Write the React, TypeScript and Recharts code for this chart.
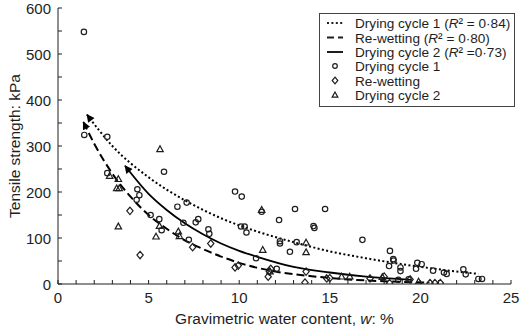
import React from 'react';
import { ComposedChart, XAxis, YAxis, Line, Scatter, Legend, Label } from 'recharts';

const FONT = '"Liberation Sans", Arial, Helvetica, sans-serif';
const INK = '#1e1e1e';

// ---- tick values ----
const xTicks = [0, 1, 2, 3, 4, 5, 6, 7, 8, 9, 10, 11, 12, 13, 14, 15, 16, 17, 18, 19, 20, 21, 22, 23, 24, 25];
const xLabelTicks = [0, 5, 10, 15, 20, 25];
const yTicks = [0, 50, 100, 150, 200, 250, 300, 350, 400, 450, 500, 550, 600];
const yLabelTicks = [0, 100, 200, 300, 400, 500, 600];

// ---- measured points (w %, tensile strength kPa) ----
const dryingCycle1Points = [
  { w: 1.43, t: 548 }, { w: 1.45, t: 324 }, { w: 2.72, t: 320 }, { w: 2.72, t: 241 },
  { w: 5.85, t: 244 }, { w: 4.38, t: 206 }, { w: 4.49, t: 193 }, { w: 4.34, t: 183 },
  { w: 5.11, t: 150 }, { w: 5.59, t: 141 }, { w: 5.72, t: 117 }, { w: 6.59, t: 168 },
  { w: 7.1, t: 177 }, { w: 7.22, t: 96 }, { w: 6.92, t: 133 }, { w: 7.74, t: 141 },
  { w: 7.6, t: 134 }, { w: 8.3, t: 119 }, { w: 8.35, t: 109 }, { w: 9.77, t: 201 },
  { w: 10.14, t: 190 }, { w: 10.1, t: 125 }, { w: 10.3, t: 125 }, { w: 10.4, t: 112 },
  { w: 11.24, t: 157 }, { w: 12.2, t: 139 }, { w: 13.08, t: 163 }, { w: 14.74, t: 163 },
  { w: 12.25, t: 93 }, { w: 12.25, t: 88 }, { w: 13.17, t: 91 }, { w: 14.1, t: 126 },
  { w: 14.15, t: 122 }, { w: 12.8, t: 70 }, { w: 10.93, t: 56 }, { w: 12.07, t: 33 },
  { w: 16.8, t: 96 }, { w: 18.32, t: 72 }, { w: 18.5, t: 54 }, { w: 18.52, t: 51 },
  { w: 18.27, t: 39 }, { w: 18.9, t: 36 }, { w: 18.9, t: 28 }, { w: 19.83, t: 46 },
  { w: 20.07, t: 43 }, { w: 19.76, t: 33 }, { w: 20.7, t: 29 }, { w: 21.3, t: 25 },
  { w: 21.45, t: 22 }, { w: 22.37, t: 32 }, { w: 22.5, t: 21 }, { w: 23.2, t: 11 },
  { w: 23.4, t: 11 }, { w: 19.35, t: 10 }, { w: 18.78, t: 9 },
];

const reWettingPoints = [
  { w: 3.97, t: 159 }, { w: 4.53, t: 63 }, { w: 7.43, t: 80 }, { w: 8.43, t: 88 },
  { w: 9.77, t: 36 }, { w: 9.95, t: 40 }, { w: 11.66, t: 27 }, { w: 11.74, t: 33 },
  { w: 11.6, t: 16 }, { w: 13.69, t: 27 }, { w: 13.63, t: 3 }, { w: 14.83, t: 12 },
  { w: 15.0, t: 13 }, { w: 17.22, t: 12 }, { w: 18.0, t: 16 }, { w: 18.3, t: 2 },
  { w: 19.43, t: 10 }, { w: 20.53, t: 2 }, { w: 20.8, t: 2 }, { w: 21.1, t: 2 },
];

const dryingCycle2Points = [
  { w: 5.63, t: 293 }, { w: 3.33, t: 228 }, { w: 3.24, t: 208 }, { w: 3.38, t: 208 },
  { w: 2.85, t: 235 }, { w: 3.33, t: 125 }, { w: 5.41, t: 103 }, { w: 5.6, t: 126 },
  { w: 6.64, t: 114 }, { w: 6.7, t: 104 }, { w: 11.24, t: 161 }, { w: 11.3, t: 74 },
  { w: 13.69, t: 90 }, { w: 13.69, t: 69 }, { w: 11.7, t: 27 }, { w: 15.65, t: 16 },
  { w: 16.1, t: 16 }, { w: 17.9, t: 15 }, { w: 19.9, t: 5 },
];

// ---- fitted curves ----
const dryingCycle1Fit = [
  { w: 1.6, t: 368 }, { w: 3, t: 300 }, { w: 5, t: 232 }, { w: 7, t: 182 }, { w: 9, t: 143 },
  { w: 11, t: 114 }, { w: 13, t: 91 }, { w: 15, t: 71 }, { w: 17, t: 56 }, { w: 19, t: 43 },
  { w: 21, t: 32 }, { w: 23.2, t: 22 },
];
const reWettingFit = [
  { w: 1.4, t: 352 }, { w: 2, t: 305 }, { w: 3, t: 240 }, { w: 4, t: 190 }, { w: 5, t: 150 },
  { w: 6, t: 120 }, { w: 7, t: 95 }, { w: 8, t: 76 }, { w: 10, t: 46 }, { w: 12, t: 27 },
  { w: 14, t: 17 }, { w: 16, t: 10 }, { w: 18, t: 6 }, { w: 20.5, t: 3 },
];
const dryingCycle2Fit = [
  { w: 3.7, t: 257 }, { w: 5, t: 196 }, { w: 6, t: 161 }, { w: 7, t: 132 }, { w: 8, t: 108 },
  { w: 9, t: 88 }, { w: 10, t: 72 }, { w: 11, t: 59 }, { w: 13, t: 37 }, { w: 15, t: 25 },
  { w: 17, t: 16 }, { w: 19.5, t: 9 },
];

const legendLines = [
  { name: 'Drying cycle 1', r2: '² = 0·84)', dash: '2 2.4' },
  { name: 'Re-wetting', r2: '² = 0·80)', dash: '7 4' },
  { name: 'Drying cycle 2', r2: '² =0·73)', dash: '' },
];
const legendMarkers = ['Drying cycle 1', 'Re-wetting', 'Drying cycle 2'];

// ---- shapes ----
const circlePath = (cx: number, cy: number, r: number) => (
  <circle cx={cx} cy={cy} r={r} fill="none" stroke={INK} strokeWidth={1.2} />
);
const diamondPath = (cx: number, cy: number, s: number) => (
  <path d={`M${cx},${cy - s}L${cx + s * 0.85},${cy}L${cx},${cy + s}L${cx - s * 0.85},${cy}Z`} fill="none" stroke={INK} strokeWidth={1.2} />
);
const trianglePath = (cx: number, cy: number, s: number) => (
  <path d={`M${cx},${cy - s}L${cx + s * 0.95},${cy + s * 0.7}L${cx - s * 0.95},${cy + s * 0.7}Z`} fill="none" stroke={INK} strokeWidth={1.2} />
);

const CircleShape = (p: any) => circlePath(p.cx, p.cy, 2.7);
const DiamondShape = (p: any) => diamondPath(p.cx, p.cy, 3.7);
const TriangleShape = (p: any) => trianglePath(p.cx, p.cy, 3.4);

const XTick = (props: any) => {
  const { x, y, payload } = props;
  const v = payload.value;
  return (
    <g>
      <line x1={x} y1={y} x2={x} y2={y - 4} stroke={INK} strokeWidth={1} />
      {xLabelTicks.includes(v) && (
        <text x={x} y={y + 13} textAnchor="middle" dominantBaseline="central" fontSize={15} fontFamily={FONT} fill={INK}>
          {v}
        </text>
      )}
    </g>
  );
};

const YTick = (props: any) => {
  const { x, y, payload } = props;
  const v = payload.value;
  return (
    <g>
      <line x1={x} y1={y} x2={x + 4} y2={y} stroke={INK} strokeWidth={1} />
      {yLabelTicks.includes(v) && (
        <text x={x - 7} y={y} textAnchor="end" dominantBaseline="central" fontSize={15} fontFamily={FONT} fill={INK}>
          {v}
        </text>
      )}
    </g>
  );
};

const LegendBox = () => {
  const rows = [10, 24.5, 39, 53, 67.5, 82];
  return (
    <svg width={196} height={94} style={{ display: 'block', overflow: 'visible' }}>
      <rect x={0.5} y={0.5} width={195} height={93} fill="#fff" stroke="#444" strokeWidth={1} />
      {legendLines.map((l, i) => (
        <g key={l.name + i}>
          <line x1={8} x2={24} y1={rows[i]} y2={rows[i]} stroke={INK} strokeWidth={2} strokeDasharray={l.dash || undefined} />
          <text x={36} y={rows[i] + 5} fontSize={13.6} fontFamily={FONT} fill={INK}>
            {l.name + ' ('}
            <tspan fontStyle="italic">R</tspan>
            {l.r2}
          </text>
        </g>
      ))}
      {legendMarkers.map((m, i) => {
        const y = rows[i + 3];
        return (
          <g key={'m' + m}>
            {i === 0 && circlePath(16, y, 2.3)}
            {i === 1 && diamondPath(16, y, 3.3)}
            {i === 2 && trianglePath(16, y, 3.0)}
            <text x={36} y={y + 5} fontSize={13.6} fontFamily={FONT} fill={INK}>
              {m}
            </text>
          </g>
        );
      })}
    </svg>
  );
};

export default function App() {
  return (
    <div style={{ position: 'absolute', left: 0, top: 0, width: 520, height: 328, background: '#fff' }}>
      <svg width={0} height={0} style={{ position: 'absolute' }}>
        <defs>
          <marker id="arrowHead" viewBox="0 0 10 10" refX={9} refY={5} markerWidth={9} markerHeight={8} markerUnits="userSpaceOnUse" orient="auto-start-reverse">
            <path d="M0,0 L10,5 L0,10 z" fill="#000" stroke="none" />
          </marker>
        </defs>
      </svg>
      <ComposedChart width={520} height={328} margin={{ top: 8, right: 9, left: 0, bottom: 0 }}>
        <XAxis
          type="number"
          dataKey="w"
          domain={[0, 25]}
          ticks={xTicks}
          interval={0}
          tick={<XTick />}
          tickLine={false}
          tickSize={0}
          tickMargin={0}
          axisLine={{ stroke: INK, strokeWidth: 1 }}
          height={44}
          allowDataOverflow
        >
          <Label
            content={(p: any) => {
              const vb = p.viewBox;
              return (
                <text x={vb.x + vb.width / 2} y={vb.y + 34} textAnchor="middle" dominantBaseline="central" fontSize={15.5} fontFamily={FONT} fill={INK}>
                  Gravimetric water content, <tspan fontStyle="italic">w</tspan>: %
                </text>
              );
            }}
          />
        </XAxis>
        <YAxis
          type="number"
          dataKey="t"
          domain={[0, 600]}
          ticks={yTicks}
          interval={0}
          tick={<YTick />}
          tickLine={false}
          tickSize={0}
          tickMargin={0}
          axisLine={{ stroke: INK, strokeWidth: 1 }}
          width={58}
          allowDataOverflow
        >
          <Label
            content={(p: any) => {
              const vb = p.viewBox;
              const cx = vb.x + 14;
              const cy = vb.y + vb.height / 2;
              return (
                <text x={cx} y={cy} transform={`rotate(-90 ${cx} ${cy})`} textAnchor="middle" dominantBaseline="central" fontSize={15.5} fontFamily={FONT} fill={INK}>
                  Tensile strength: kPa
                </text>
              );
            }}
          />
        </YAxis>
        <Line data={dryingCycle1Fit} dataKey="t" type="monotone" stroke="#000" strokeWidth={2} strokeDasharray="2 2.4" dot={false} activeDot={false} isAnimationActive={false} markerStart="url(#arrowHead)" legendType="none" />
        <Line data={reWettingFit} dataKey="t" type="monotone" stroke="#000" strokeWidth={2} strokeDasharray="8 4" dot={false} activeDot={false} isAnimationActive={false} markerStart="url(#arrowHead)" legendType="none" />
        <Line data={dryingCycle2Fit} dataKey="t" type="monotone" stroke="#000" strokeWidth={1.8} dot={false} activeDot={false} isAnimationActive={false} markerStart="url(#arrowHead)" legendType="none" />
        <Scatter data={dryingCycle1Points} dataKey="t" shape={CircleShape} isAnimationActive={false} />
        <Scatter data={reWettingPoints} dataKey="t" shape={DiamondShape} isAnimationActive={false} />
        <Scatter data={dryingCycle2Points} dataKey="t" shape={TriangleShape} isAnimationActive={false} />
        <Legend
          layout="vertical"
          align="center"
          verticalAlign="middle"
          wrapperStyle={{ position: 'absolute', left: 319, top: 13, width: 196, height: 94 }}
          content={() => <LegendBox />}
        />
      </ComposedChart>
    </div>
  );
}
